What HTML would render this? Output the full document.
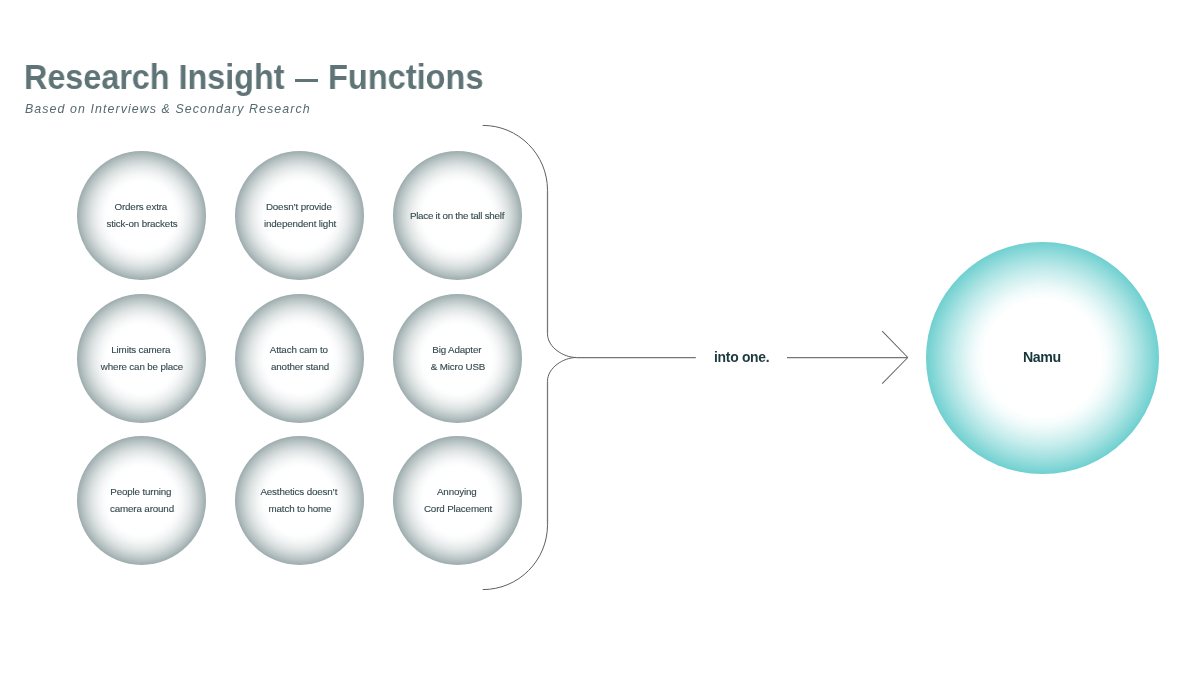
<!DOCTYPE html>
<html><head><meta charset="utf-8">
<style>
html,body{margin:0;padding:0;background:#fff;}
body{width:1200px;height:675px;position:relative;overflow:hidden;font-family:"Liberation Sans",sans-serif;}
.t{position:absolute;white-space:nowrap;will-change:transform;}
.title{top:56.6px;font-size:34.5px;font-weight:bold;color:#5f7476;line-height:40px;transform-origin:0 0;}
#sub{left:24.5px;top:100.8px;font-size:12.4px;font-style:italic;color:#566b6e;letter-spacing:1.08px;line-height:16px;}
.c{position:absolute;width:129px;height:129px;border-radius:50%;
background:radial-gradient(circle closest-side,#fff 0%,#fff 50.0%,rgb(253,254,254) 55.0%,rgb(250,250,250) 60.0%,rgb(244,245,246) 65.0%,rgb(236,239,239) 70.0%,rgb(227,231,231) 75.0%,rgb(216,222,222) 80.0%,rgb(203,211,212) 85.0%,rgb(189,199,200) 90.0%,rgb(173,186,187) 95.0%,rgb(156,171,173) 100.0%);}
.ct{position:absolute;width:160px;text-align:center;font-size:9.8px;color:#34494d;-webkit-text-stroke:0.12px #34494d;line-height:16.8px;letter-spacing:-0.15px;will-change:transform;white-space:nowrap;}
#namu{position:absolute;left:926.2px;top:241.7px;width:232.6px;height:232.6px;border-radius:50%;
background:radial-gradient(circle closest-side,#fff 0%,#fff 50.0%,rgb(249,253,253) 55.0%,rgb(239,250,250) 60.0%,rgb(227,246,246) 65.0%,rgb(213,241,241) 70.0%,rgb(199,237,237) 75.0%,rgb(183,231,231) 80.0%,rgb(167,226,226) 85.0%,rgb(149,220,220) 90.0%,rgb(131,214,214) 95.0%,rgb(112,208,208) 100.0%);}
</style></head><body>
<div class="t title" id="t1" style="left:23.6px;transform:scaleX(0.937)">Research Insight</div><div style="position:absolute;left:295.1px;top:79px;width:23.2px;height:2.6px;background:#5f7476"></div><div class="t title" id="t2" style="left:327.9px;transform:scaleX(0.943)">Functions</div>
<div class="t" id="sub">Based on Interviews &amp; Secondary Research</div>

<div class="c" style="left:77.2px;top:151px"></div>
<div class="c" style="left:235.2px;top:151px"></div>
<div class="c" style="left:393.2px;top:151px"></div>
<div class="c" style="left:77.2px;top:293.6px"></div>
<div class="c" style="left:235.2px;top:293.6px"></div>
<div class="c" style="left:393.2px;top:293.6px"></div>
<div class="c" style="left:77.2px;top:436.2px"></div>
<div class="c" style="left:235.2px;top:436.2px"></div>
<div class="c" style="left:393.2px;top:436.2px"></div>

<div class="ct" style="left:61.7px;top:199.2px"><span style="position:relative;left:-1.2px">Orders extra</span><br>stick-on brackets</div>
<div class="ct" style="left:219.7px;top:199.2px"><span style="position:relative;left:-1.2px">Doesn’t provide</span><br>independent light</div>
<div class="ct" style="left:376.9px;top:207.6px;letter-spacing:-0.25px">Place it on the tall shelf</div>
<div class="ct" style="left:61.7px;top:341.9px"><span style="position:relative;left:-1.2px">Limits camera</span><br>where can be place</div>
<div class="ct" style="left:219.7px;top:341.9px"><span style="position:relative;left:-1.2px">Attach cam to</span><br>another stand</div>
<div class="ct" style="left:377.7px;top:341.9px"><span style="position:relative;left:-1.2px">Big Adapter</span><br>&amp; Micro USB</div>
<div class="ct" style="left:61.7px;top:483.8px"><span style="position:relative;left:-1.2px">People turning</span><br>camera around</div>
<div class="ct" style="left:219.7px;top:483.8px"><span style="position:relative;left:-1.2px">Aesthetics doesn’t</span><br>match to home</div>
<div class="ct" style="left:377.7px;top:483.8px"><span style="position:relative;left:-1.2px">Annoying</span><br>Cord Placement</div>

<svg width="1200" height="675" style="position:absolute;left:0;top:0">
<g fill="none" stroke="#757575" stroke-width="1.25">
<path d="M547.5,190.2 L547.5,333.8 M547.5,381.2 L547.5,524.8 M576.3,357.5 L695.8,357.5 M787,357.5 L907.8,357.5"/>
</g>
<g fill="none" stroke="#5e5e5e" stroke-width="1">
<path d="M482.7,125.4 C518.5,125.4 547.5,154.4 547.5,190.2"/>
<path d="M547.5,333.8 C547.5,347.1 563.2,357.5 576.3,357.5"/>
<path d="M576.3,357.5 C563.2,357.5 547.5,367.9 547.5,381.2"/>
<path d="M547.5,524.8 C547.5,560.6 518.5,589.6 482.7,589.6"/>
</g>
<g fill="none" stroke="#666" stroke-width="1.05">
<path d="M882.2,331.1 L907.8,357.5"/>
<path d="M882.2,383.6 L907.8,357.5"/>
</g>
</svg>
<div class="t" id="into" style="left:714px;top:349px;font-size:13.9px;letter-spacing:-0.28px;font-weight:bold;color:#1d3a40;line-height:16px;">into one.</div>
<div id="namu"></div>
<div class="t" style="left:1023.3px;top:349.3px;font-size:14.2px;letter-spacing:-0.45px;font-weight:bold;color:#17363c;line-height:16px;">Namu</div>
</body></html>
